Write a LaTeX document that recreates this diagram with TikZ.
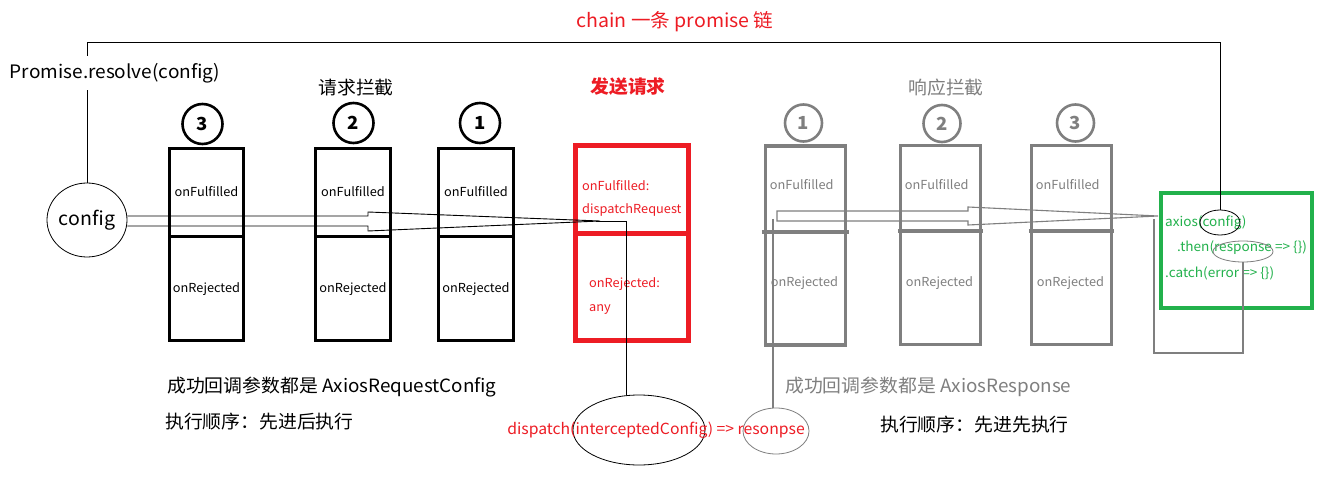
\documentclass[tikz,border=0pt]{standalone}
\usepackage{fontspec}
\setmainfont[FakeStretch=1.03]{Noto Sans CJK SC}
\usetikzlibrary{shapes.geometric}
\definecolor{myred}{RGB}{237,28,36}
\definecolor{mygray}{RGB}{127,127,127}
\definecolor{mygreen}{RGB}{34,177,76}
\newcommand{\fs}[1]{\fontsize{#1bp}{#1bp}\selectfont}
\tikzset{
  bbox/.style={draw, line width=3bp, inner sep=0pt, minimum width=74bp, minimum height=192bp},
  gbox/.style={draw=mygray, line width=3.5bp, inner sep=0pt, minimum width=80bp, minimum height=199bp},
  numc/.style={draw, circle, line width=2.6bp, minimum size=40bp, inner sep=0pt, font=\fs{18}\bfseries},
  gnumc/.style={numc, draw=mygray, text=mygray, minimum size=37bp},
  small/.style={inner sep=0pt, font=\fs{12.4}},
  gsmall/.style={inner sep=0pt, font=\fs{13.2}},
  big/.style={inner sep=0pt, font=\fs{18.3}},
  oval/.style={draw, ellipse, inner sep=0pt, line width=0.8bp},
}
\begin{document}
\begin{tikzpicture}[x=1bp,y=-1bp]
\useasboundingbox[fill=white] (0,0) rectangle (1329,483);

% titles
\node[big, text=myred, font=\fs{19}] (chain) at (675,22) {chain 一条 promise 链};
\node[big, text=myred, font=\fs{18.3}\bfseries] (send) at (628,87) {发送请求};
\node[big] (reqi) at (356,88) {请求拦截};
\node[big, text=mygray] (resi) at (946,88) {响应拦截};

% config circle
\node[oval, minimum width=80bp, minimum height=74bp, font=\fs{19}] (cfg) at (87,220) {config};

% black boxes
\node[bbox] (b3) at (206.5,244.5) {};
\node[bbox, minimum width=75bp] (b2) at (353,244.5) {};
\node[bbox, minimum width=75bp] (b1) at (476,244.5) {};
\foreach \b in {b3,b2,b1}{
  \draw[line width=3bp] (\b.west |- 0,237) -- (\b.east |- 0,237);
  \node[small] at (\b.center |- 0,192) {onFulfilled};
  \node[small] at (\b.center |- 0,289) {onRejected};
}
\node[numc] (n3) at (202.5,124) {3};
\node[numc] (n2) at (353.5,123) {2};
\node[numc] (n1) at (480,123) {1};

% red box
\node[draw=myred, line width=5bp, inner sep=0pt, minimum width=113bp, minimum height=195bp] (rb) at (632,243) {};
\draw[myred, line width=5bp] (rb.west |- 0,234) -- (rb.east |- 0,234);
\node[small, text=myred, anchor=west] at (582,186) {onFulfilled:};
\node[small, text=myred, anchor=west] at (582,210) {dispatchRequest};
\node[small, text=myred, anchor=west] at (589,284) {onRejected:};
\node[small, text=myred, anchor=west] at (589,309) {any};

% gray boxes
\node[gbox] (g1) at (805.5,245.5) {};
\node[gbox] (g2) at (940.5,245) {};
\node[gbox] (g3) at (1071.5,245) {};
\draw[mygray, line width=3.5bp] ([xshift=-2bp]g1.west |- 0,232) -- ([xshift=2bp]g1.east |- 0,232);
\foreach \b in {g2,g3}{
  \draw[mygray, line width=3.5bp] ([xshift=-1bp]\b.west |- 0,231) -- ([xshift=1bp]\b.east |- 0,231);
}
\foreach \b in {g1,g2,g3}{
  \node[small, text=mygray, anchor=west] at ([xshift=6bp]\b.west |- 0,185) {onFulfilled};
  \node[small, text=mygray] at ([xshift=-1bp]\b.center |- 0,283) {onRejected};
}
\node[gnumc] (m1) at (803.5,123) {1};
\node[gnumc] (m2) at (942,123.5) {2};
\node[gnumc] (m3) at (1075.5,123) {3};

% green box
\node[draw=mygreen, line width=4bp, inner sep=0pt, minimum width=151bp, minimum height=115bp] (gr) at (1236.5,250.5) {};
\node[gsmall, text=mygreen, anchor=west] (ax) at (1165,223) {axios(config)};
\node[gsmall, text=mygreen, anchor=west] (th) at (1177,248) {.then(response => \{\})};
\node[gsmall, text=mygreen, anchor=west] (ca) at (1165,273) {.catch(error => \{\})};
\node[oval, minimum width=40bp, minimum height=25bp] (axc) at (1220,222.5) {};
\node[oval, draw=mygray, minimum width=60bp, minimum height=21bp] (resp) at (1243,251.5) {};

% chain line
\draw[line width=0.9bp] (cfg.north) -- (cfg.north |- 0,42) -- (axc.north |- 0,42) -- (axc.north);
\node[big, fill=white, inner xsep=1bp, inner ysep=7bp, font=\fs{18.5}] (pr) at (115,73) {Promise.resolve(config)};

% black hollow arrow
\coordinate (bt) at (626,221);
\draw[line width=0.9bp] (cfg.east |- 0,216) -- (368,216) -- (368,212) -- (600,221) -- (368,231) -- (368,226) -- (cfg.east |- 0,226);
\draw[line width=0.9bp] (596,221) -- (bt);

% gray hollow arrow
\coordinate (gs) at (773,219);
\draw[mygray, line width=1.1bp] (777,211) -- (968,211) -- (968,207) -- (1158,216) -- (968,225) -- (968,221) -- (777,221) -- cycle;

% dispatch
\node[oval, minimum width=132bp, minimum height=70bp] (disp) at (639,430) {};
\node[oval, draw=mygray, minimum width=66bp, minimum height=46bp] (rs) at (776,431) {};
\node[inner sep=0pt, font=\fs{15.3}, text=myred] (dtext) at (656,430) {dispatch(interceptedConfig) => resonpse};
\draw[line width=0.9bp] (bt) -- (bt |- disp.north);
\draw[mygray, line width=1.1bp] (gs) -- (gs |- rs.north);

% response loop
\coordinate (gl) at (1154,219);
\draw[mygray, line width=1.1bp] (resp.south) -- (resp.south |- 0,353) -| (gl);

% bottom texts
\node[big, anchor=west] (t1) at (167,387) {成功回调参数都是 AxiosRequestConfig};
\node[big, anchor=west] (t2) at (165,422) {执行顺序：先进后执行};
\node[big, anchor=west, text=mygray] (t3) at (785,387) {成功回调参数都是 AxiosResponse};
\node[big, anchor=west] (t4) at (880,425) {执行顺序：先进先执行};
\end{tikzpicture}
\end{document}
